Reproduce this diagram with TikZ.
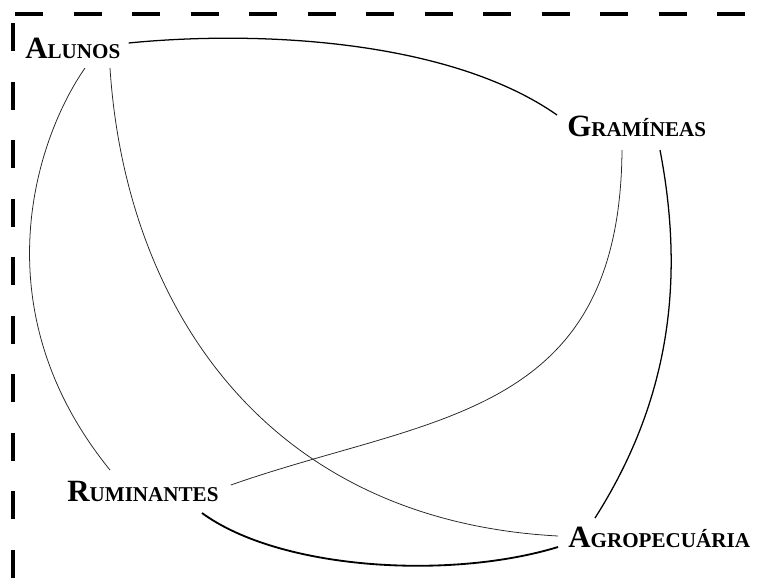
\documentclass[tikz,border=0pt]{standalone}
\usepackage{fontspec}
\setmainfont{Liberation Serif}
\usepackage{tikz}
\newcommand{\capsword}[2]{{\fontsize{22}{24}\selectfont #1}{\fontsize{15}{18}\selectfont #2}}

\begin{document}
\begin{tikzpicture}[
    x=0.025cm, y=-0.025cm,
    term/.style={inner sep=0pt, anchor=base west, font=\bfseries},
    frame/.style={line width=2.4pt},
    link/.style={line width=0.55pt, black!85},
    linkmid/.style={line width=0.9pt},
    linkthick/.style={line width=1.3pt},
]
\useasboundingbox (0,0) rectangle (763,580);

% partial dashed frame (top and left only)
\foreach \k in {0,...,12}
    \draw[frame] (15+58.5*\k,14) -- ++(28,0);
\foreach \k in {0,...,9}
    \draw[frame] (13,23+58.5*\k) -- ++(0,28);

\node[term] (alunos) at (25,58) {\capsword{A}{LUNOS}};
\node[term] (gram) at (567,136) {\capsword{G}{RAMÍNEAS}};
\node[term] (rumin) at (67,501) {\capsword{R}{UMINANTES}};
\node[term] (agro) at (568,547) {\capsword{A}{GROPECUÁRIA}};

\draw[linkmid] ([shift={(8,-15)}]alunos.base east)
    .. controls (260,30) and (450,40) .. ([shift={(-10,-21)}]gram.base west);
\draw[link] ([shift={(60,10)}]alunos.base west)
    .. controls (35,140) and (-20,310) .. ([shift={(43,-31)}]rumin.base west);
\draw[link] ([shift={(85,10)}]alunos.base west)
    .. controls (125,300) and (260,520) .. ([shift={(-10,-11)}]agro.base west);
\draw[link] ([shift={(55,14)}]gram.base west)
    .. controls (620,420) and (430,415) .. ([shift={(12,-16)}]rumin.base east);
\draw[linkmid] ([shift={(93,14)}]gram.base west)
    .. controls (685,280) and (670,400) .. ([shift={(27,-29)}]agro.base west);
\draw[linkthick] ([shift={(135,12)}]rumin.base west)
    .. controls (280,570) and (450,580) .. ([shift={(-10,0)}]agro.base west);

\end{tikzpicture}
\end{document}
